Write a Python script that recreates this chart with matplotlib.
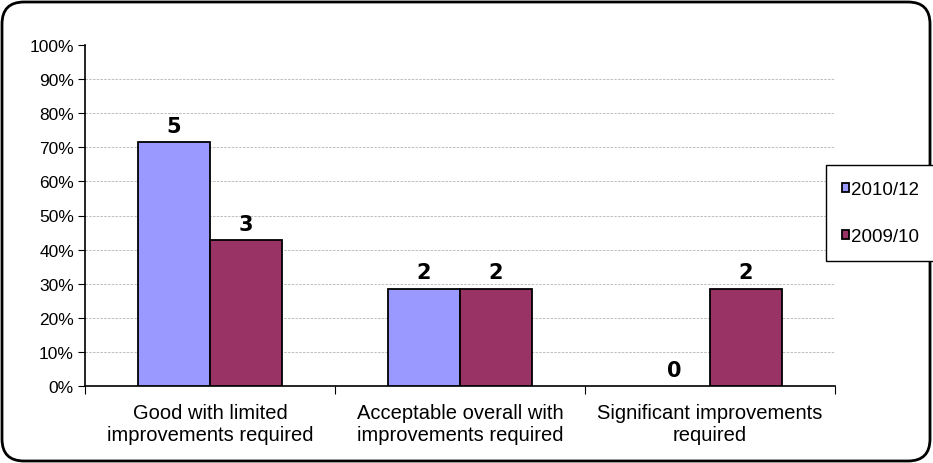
import numpy as np
import matplotlib.pyplot as plt
from matplotlib.patches import FancyBboxPatch
from matplotlib.ticker import PercentFormatter

# counts per category, out of 7 in each period
categories = ["Good with limited\nimprovements required",
              "Acceptable overall with\nimprovements required",
              "Significant improvements\nrequired"]
series_names = ["2010/12", "2009/10"]
counts_2010 = [5, 2, 0]
counts_2009 = [3, 2, 2]
total = 7

plt.rcParams['font.family'] = ['Liberation Sans', 'DejaVu Sans']

fig = plt.figure(figsize=(9.33, 4.64), dpi=100)
ax = fig.add_axes([85/933, 1 - 387/464, 750/933, 341/464])

# rounded outer frame (inches)
frame = FancyBboxPatch((0.02, 0.02), 9.28, 4.59, boxstyle="round,pad=0,rounding_size=0.22",
                       transform=fig.dpi_scale_trans, fill=False, lw=2, ec='black')
fig.patches.append(frame)

x = np.arange(len(categories))
w = 0.288
pct_a = np.array(counts_2010) / total * 100
pct_b = np.array(counts_2009) / total * 100
lw_a = [1.3 if c > 0 else 0 for c in counts_2010]
lw_b = [1.3 if c > 0 else 0 for c in counts_2009]
b1 = ax.bar(x - w/2, pct_a, w, color='#9999FF', edgecolor='black', linewidth=lw_a, label=series_names[0], zorder=3)
b2 = ax.bar(x + w/2, pct_b, w, color='#993366', edgecolor='black', linewidth=lw_b, label=series_names[1], zorder=3)

for bars, cnts in ((b1, counts_2010), (b2, counts_2009)):
    for r, c in zip(bars, cnts):
        ax.text(r.get_x() + r.get_width()/2, r.get_height() + 1.8, str(c),
                ha='center', va='bottom', fontsize=15, fontweight='bold', family='DejaVu Sans')

ax.set_xlim(-0.5, 2.5)
ax.set_ylim(0, 100)
ax.set_yticks(np.arange(0, 101, 10))
ax.yaxis.set_major_formatter(PercentFormatter(decimals=0))
ax.set_xticks([-0.5, 0.5, 1.5, 2.5], minor=False)
ax.set_xticklabels([])
ax.set_xticks(x, minor=True)
ax.set_xticklabels(categories, minor=True, fontsize=14.5, linespacing=1.22)
ax.tick_params(axis='x', which='major', length=6, direction='out')
ax.tick_params(axis='x', which='minor', length=0, pad=12)
ax.tick_params(axis='y', labelsize=12.5, length=5, pad=3)

for y in range(10, 100, 10):
    ax.axhline(y, color='#b4b4b4', lw=0.6, ls=(0, (3, 1.5)), zorder=1)

for s in ('top', 'right'):
    ax.spines[s].set_visible(False)
ax.spines['left'].set_lw(1.2)
ax.spines['bottom'].set_lw(1.2)

leg = fig.legend(loc='upper left', bbox_to_anchor=(826/933, 1 - 166/464), fontsize=13.5,
                 frameon=True, fancybox=False, edgecolor='black', handlelength=0.4,
                 handleheight=0.4, handletextpad=0.1, labelspacing=1.6,
                 borderpad=0.85, borderaxespad=0, framealpha=1)
leg.get_frame().set_linewidth(1.0)

fig.savefig('out.png', dpi=100)
